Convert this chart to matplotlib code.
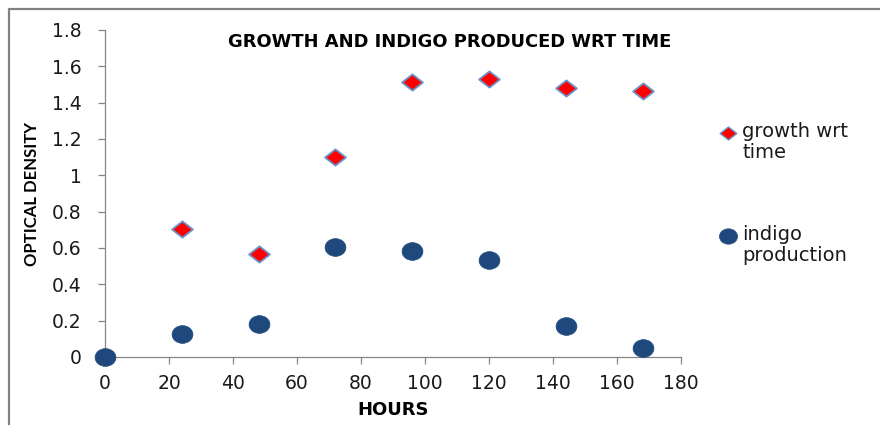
import matplotlib
matplotlib.use("Agg")
import matplotlib.pyplot as plt
from matplotlib.path import Path
from matplotlib.lines import Line2D
import numpy as np

hours = [0, 24, 48, 72, 96, 120, 144, 168]
growth_hours = [24, 48, 72, 96, 120, 144, 168]
growth = [0.705, 0.567, 1.10, 1.515, 1.533, 1.48, 1.465]
indigo = [0.0, 0.127, 0.182, 0.603, 0.585, 0.535, 0.170, 0.050]

title = "GROWTH AND INDIGO PRODUCED WRT TIME"
xlabel = "HOURS"
ylabel = "OPTICAL DENSITY"
labels = ["growth wrt\ntime", "indigo\nproduction"]

plt.rcParams['font.family'] = ['DejaVu Sans']

# marker shapes
diamond = Path([(-1, 0), (0, 0.78), (1, 0), (0, -0.78), (-1, 0)],
               [Path.MOVETO, Path.LINETO, Path.LINETO, Path.LINETO, Path.CLOSEPOLY])
uc = Path.unit_circle()
ellipse = Path(uc.vertices * np.array([1.0, 0.85]), uc.codes)

red = '#FF0000'
edge_blue = '#6A93C9'
navy = '#1F497D'

fig = plt.figure(figsize=(8.8, 4.25), dpi=100)
ax = fig.add_axes([105/880, 1 - 357/425, (681 - 105)/880, (357 - 30)/425])

ax.plot(growth_hours, growth, linestyle='none', marker=diamond, ms=15,
        mfc=red, mec=edge_blue, mew=1.3, zorder=3)
ax.plot(hours, indigo, linestyle='none', marker=ellipse, ms=15,
        mfc=navy, mec=navy, mew=0.5, zorder=3, clip_on=False)

ax.set_xlim(0, 180)
ax.set_ylim(0, 1.8)
ax.set_xticks(np.arange(0, 181, 20))
ax.set_yticks(np.arange(0, 1.81, 0.2))
ax.set_yticklabels(['0', '0.2', '0.4', '0.6', '0.8', '1', '1.2', '1.4', '1.6', '1.8'])
for s in ['top', 'right']:
    ax.spines[s].set_visible(False)
for s in ['left', 'bottom']:
    ax.spines[s].set_color('#868686')
    ax.spines[s].set_linewidth(0.9)
ax.tick_params(axis='both', direction='out', length=5, width=0.9, color='#868686',
               labelsize=13.5, labelcolor='#1a1a1a')
ax.tick_params(axis='x', pad=7)
ax.tick_params(axis='y', pad=12)

fig.text(450/880, 1 - 42/425, title, ha='center', va='center',
         fontsize=12.9, fontweight='bold', color='black')
fig.text(393/880, 1 - 410/425, xlabel, ha='center', va='center',
         fontsize=13, fontweight='bold', color='black')
fig.text(32/880, 1 - 194/425, ylabel, ha='center', va='center', rotation=90,
         fontsize=12, fontweight='bold', color='black', family=['Lato', 'DejaVu Sans'])

# legend
leg_y = [133, 236]
leg_markers = [dict(marker=diamond, ms=12, mfc=red, mec=edge_blue, mew=1.0),
               dict(marker=ellipse, ms=13, mfc=navy, mec=navy, mew=0.5)]
for yy, lab, mk in zip(leg_y, labels, leg_markers):
    fig.add_artist(Line2D([728/880], [1 - yy/425], transform=fig.transFigure,
                          linestyle='none', **mk))
    fig.text(742/880, 1 - (yy - 11)/425, lab, ha='left', va='top',
             fontsize=14, color='#1a1a1a', linespacing=1.15)

# outer border (top and left)
fig.add_artist(Line2D([9/880, 9/880, 879/880], [0, 1 - 8.5/425, 1 - 8.5/425],
                      transform=fig.transFigure, color='#808080', lw=1.6))

fig.savefig('out.png', dpi=100)
